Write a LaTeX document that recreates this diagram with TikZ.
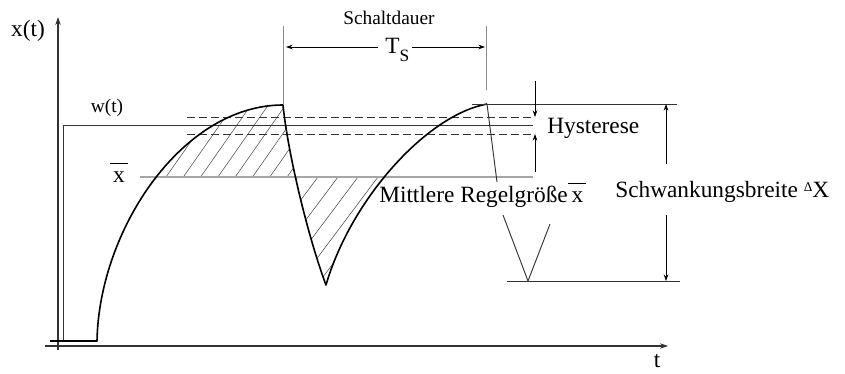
\documentclass[tikz,border=0pt]{standalone}
\usepackage{fontspec}
\setmainfont{Liberation Serif}
\usetikzlibrary{arrows.meta}

\newcommand{\mittelx}{\leavevmode\rlap{\kern-2.5pt\rule[13.3pt]{13.5pt}{1.1pt}}x}

\tikzset{
  axis/.style={line width=0.8pt,black!80,-{Stealth[length=6pt,width=4pt]}},
  curve/.style={line width=1.2pt,line join=round},
  thinline/.style={line width=0.7pt,black!80},
  markline/.style={line width=0.7pt,black!45},
  hysline/.style={line width=0.7pt,black!80,dash pattern=on 6pt off 3pt},
  meanline/.style={line width=1.2pt,black!35},
  dimarrow/.style={line width=0.6pt,-{Stealth[length=5pt,width=3.5pt]}},
  hatch/.style={line width=0.4pt,black!70},
  lbl/.style={font=\fontsize{17.5}{20}\selectfont,inner sep=0pt},
  smalllbl/.style={font=\fontsize{14.5}{16}\selectfont,inner sep=0pt},
}

\begin{document}
\begin{tikzpicture}[x=0.75pt,y=-0.75pt]
\useasboundingbox (0,0) rectangle (845,374);

% points of the curve
\coordinate (start) at (50,341);
\coordinate (rise) at (97,341);
\coordinate (peak1) at (283,105);
\coordinate (low1) at (326,285);
\coordinate (peak2) at (487,104);
\coordinate (low2) at (528,281);

% hatching above the mean value
\begin{scope}
  \clip (0,0) rectangle (845,177);
  \clip (rise) .. controls (99,230) and (182,105) .. (peak1)
        .. controls (288,155) and (309,240) .. (low1) -- cycle;
  \foreach \k in {-6,...,10}
    \draw[hatch] (166+17.3*\k-0.7*130,307) -- (166+17.3*\k+0.7*90,87);
\end{scope}

% hatching below the mean value
\begin{scope}
  \clip (0,177) rectangle (845,374);
  \clip (peak1) .. controls (288,155) and (309,240) .. (low1)
        .. controls (351,199) and (427,115) .. (peak2) -- cycle;
  \foreach \k in {-3,...,6}
    \draw[hatch] (318+20*\k-0.75*130,307) -- (318+20*\k+0.75*90,87);
\end{scope}

% axes
\draw[axis] (58,350) -- (58,17);
\draw[axis] (45,346) -- (668,346);

% set point w(t), hysteresis band and mean value
\draw[thinline] (63,341) -- (63,125) -- (533,125);
\draw[hysline] (187,117) -- (533,117);
\draw[hysline] (187,134) -- (533,134);
\draw[meanline] (140,177) -- (533,177);

% controlled variable x(t)
\draw[curve] (start) -- (rise) .. controls (99,230) and (182,105) .. (peak1)
  .. controls (288,155) and (309,240) .. (low1)
  .. controls (351,199) and (427,115) .. (peak2);
\draw[thinline] (peak2) -- (497,182);
\draw[thinline] (503,215) -- (low2) -- (550,224);

% limits of the swing
\draw[thinline] (472,104) -- (677,104);
\draw[thinline] (507,281) -- (680,281);

% switching period
\draw[markline] (283,26) -- (peak1);
\draw[markline] (486,26) -- (486,90);
\draw[dimarrow] (378,47) -- (286,47);
\draw[dimarrow] (412,47) -- (485,47);

% hysteresis
\draw[dimarrow] (535,81) -- (535,117);
\draw[dimarrow] (535,172) -- (535,134);

% swing width
\draw[dimarrow] (666,164) -- (666,104);
\draw[dimarrow] (666,215) -- (666,281);

% labels
\node[lbl] (xlab) at (28,31) {x(t)};
\node[lbl,anchor=base] (tlab) at (657,367) {t};
\node[smalllbl] (wlab) at (107,108) {w(t)};
\node[lbl,anchor=base] (xbarlab) at (119,182) {\mittelx};
\node[smalllbl,anchor=base west] (schalt) at (343,25) {Schaltdauer};
\node[lbl,anchor=base west] (ts) at (385,54) {T\raisebox{-6pt}{\fontsize{13}{14}\selectfont S}};
\node[lbl,anchor=base west] (hyst) at (547,133) {Hysterese};
\node[lbl,anchor=base west] (mean) at (379,202) {Mittlere Regelgröße\,\mittelx};
\node[lbl,anchor=base west] (swing) at (615,197) {Schwankungsbreite \raisebox{3.8pt}{\fontsize{10}{11}\selectfont Δ}X};
\end{tikzpicture}
\end{document}
